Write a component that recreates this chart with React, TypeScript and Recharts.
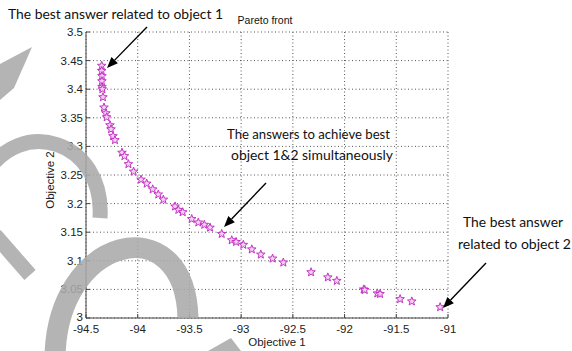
import React from 'react';
import { ScatterChart, Scatter, XAxis, YAxis, CartesianGrid } from 'recharts';

const objective1 = [
  -94.348, -94.348, -94.346, -94.346, -94.345, -94.342, -94.336, -94.326, -94.307, -94.3,
  -94.268, -94.258, -94.239, -94.22, -94.152, -94.128, -94.09, -94.04, -93.968, -93.913,
  -93.855, -93.801, -93.752, -93.639, -93.607, -93.565, -93.478, -93.414, -93.356, -93.301,
  -93.188, -93.091, -93.049, -92.979, -92.897, -92.81, -92.696, -92.592, -92.324, -92.162,
  -92.075, -91.815, -91.805, -91.683, -91.657, -91.463, -91.35, -91.076,
];

const objective2 = [
  3.441, 3.432, 3.423, 3.414, 3.404, 3.4, 3.386, 3.368, 3.358, 3.351,
  3.337, 3.33, 3.318, 3.311, 3.289, 3.283, 3.269, 3.256, 3.242, 3.235,
  3.225, 3.216, 3.207, 3.195, 3.189, 3.185, 3.173, 3.167, 3.163, 3.158,
  3.147, 3.136, 3.133, 3.128, 3.12, 3.111, 3.104, 3.097, 3.08, 3.071,
  3.065, 3.05, 3.049, 3.043, 3.042, 3.033, 3.029, 3.019,
];

const xTicks = [-94.5, -94, -93.5, -93, -92.5, -92, -91.5, -91];
const yTicks = [3, 3.05, 3.1, 3.15, 3.2, 3.25, 3.3, 3.35, 3.4, 3.45, 3.5];

const data = objective1.map((x, i) => ({ x, y: objective2[i] }));

const tickFont = { fontFamily: '"Liberation Sans", Arial, sans-serif', fontSize: 11.5, fill: '#222' };
const noteFont = { fontFamily: 'Lato, "Open Sans", sans-serif', fontSize: 14, fill: '#111' };

const Star = (props: any) => {
  const { cx, cy } = props;
  const pts: string[] = [];
  for (let i = 0; i < 10; i++) {
    const a = (-90 + i * 36) * Math.PI / 180;
    const r = i % 2 === 0 ? 4.5 : 1.9;
    pts.push(`${cx + r * Math.cos(a)},${cy + r * Math.sin(a)}`);
  }
  return <polygon points={pts.join(' ')} fill="#f3d0f3" stroke="#c434c4" strokeWidth={1} />;
};

const XTick = (props: any) => {
  const { x, y, payload } = props;
  return (
    <g>
      <line x1={x} x2={x} y1={y} y2={y - 4} stroke="#444" />
      <text x={x} y={y + 15} textAnchor="middle" {...tickFont}>{String(payload.value)}</text>
    </g>
  );
};

const YTick = (props: any) => {
  const { x, y, payload } = props;
  const dy = payload.value === 3 ? 3 : 4;
  return (
    <g>
      <line x1={x} x2={x + 4} y1={y} y2={y} stroke="#444" />
      <text x={x - 3} y={y + dy} textAnchor="end" {...tickFont}>{String(payload.value)}</text>
    </g>
  );
};

const Arrow = ({ x1, y1, x2, y2 }: { x1: number; y1: number; x2: number; y2: number }) => {
  const ang = Math.atan2(y2 - y1, x2 - x1);
  const len = 11;
  const hw = 4.5;
  const bx = x2 - len * Math.cos(ang);
  const by = y2 - len * Math.sin(ang);
  const px = -Math.sin(ang) * hw;
  const py = Math.cos(ang) * hw;
  return (
    <g>
      <line x1={x1} y1={y1} x2={bx} y2={by} stroke="#000" strokeWidth={1.4} />
      <polygon points={`${x2},${y2} ${bx + px},${by + py} ${bx - px},${by - py}`} fill="#000" />
    </g>
  );
};

export default function App() {
  return (
    <div style={{ position: 'absolute', left: 0, top: 0, width: 572, height: 351, background: '#fff' }}>
      <ScatterChart width={572} height={351} margin={{ top: 32, right: 124, bottom: 0, left: 0 }}>
        <CartesianGrid stroke="#555" strokeDasharray="1 2.5" horizontalValues={yTicks} verticalValues={xTicks} />
        <XAxis
          type="number"
          dataKey="x"
          domain={[-94.5, -91]}
          ticks={xTicks}
          height={33}
          tickSize={0}
          tickMargin={0}
          tickLine={false}
          axisLine={{ stroke: '#444' }}
          tick={<XTick />}
          interval={0}
        />
        <YAxis
          type="number"
          dataKey="y"
          domain={[3, 3.5]}
          ticks={yTicks}
          width={86}
          tickSize={0}
          tickMargin={0}
          tickLine={false}
          axisLine={{ stroke: '#444' }}
          tick={<YTick />}
          interval={0}
        />
        <Scatter data={data} shape={<Star />} isAnimationActive={false} />
      </ScatterChart>
      <svg width={572} height={351} style={{ position: 'absolute', left: 0, top: 0, pointerEvents: 'none' }}>
        <g fill="#aaaaaa" opacity={0.88}>
          <polygon points="0,64 32,47 14,88 0,100" />
          <polygon points="208,351 231,338 241,351" />
        </g>
        <g fill="none" stroke="#aaaaaa" opacity={0.88}>
          <path d="M 100 218 C 105 140, 20 115, -15 175" strokeWidth={15} />
          <path d="M -5 235 L 30 275" strokeWidth={15} />
          <path d="M 55 360 C 55 235, 185 205, 188 318" strokeWidth={21} />
        </g>
        <text x={265} y={24} textAnchor="middle" fontFamily='"Liberation Sans", Arial, sans-serif' fontSize={10.5} fill="#111">Pareto front</text>
        <text x={277} y={346} textAnchor="middle" {...tickFont}>Objective 1</text>
        <text x={54} y={180} textAnchor="middle" transform="rotate(-90 54 180)" {...tickFont}>Objective 2</text>
        <text x={8} y={19} textLength={215} lengthAdjust="spacingAndGlyphs" {...noteFont}>The best answer related to object 1</text>
        <text x={227} y={139} textLength={163} lengthAdjust="spacingAndGlyphs" {...noteFont}>The answers to achieve best</text>
        <text x={231} y={160} textLength={162} lengthAdjust="spacingAndGlyphs" {...noteFont}>object 1&amp;2 simultaneously</text>
        <text x={463} y={227} textLength={100} lengthAdjust="spacingAndGlyphs" {...noteFont}>The best answer</text>
        <text x={458} y={249} textLength={113} lengthAdjust="spacingAndGlyphs" {...noteFont}>related to object 2</text>
        <Arrow x1={147} y1={27} x2={107} y2={68} />
        <Arrow x1={266} y1={183} x2={224} y2={227} />
        <Arrow x1={486} y1={263} x2={443} y2={308} />
      </svg>
    </div>
  );
}
